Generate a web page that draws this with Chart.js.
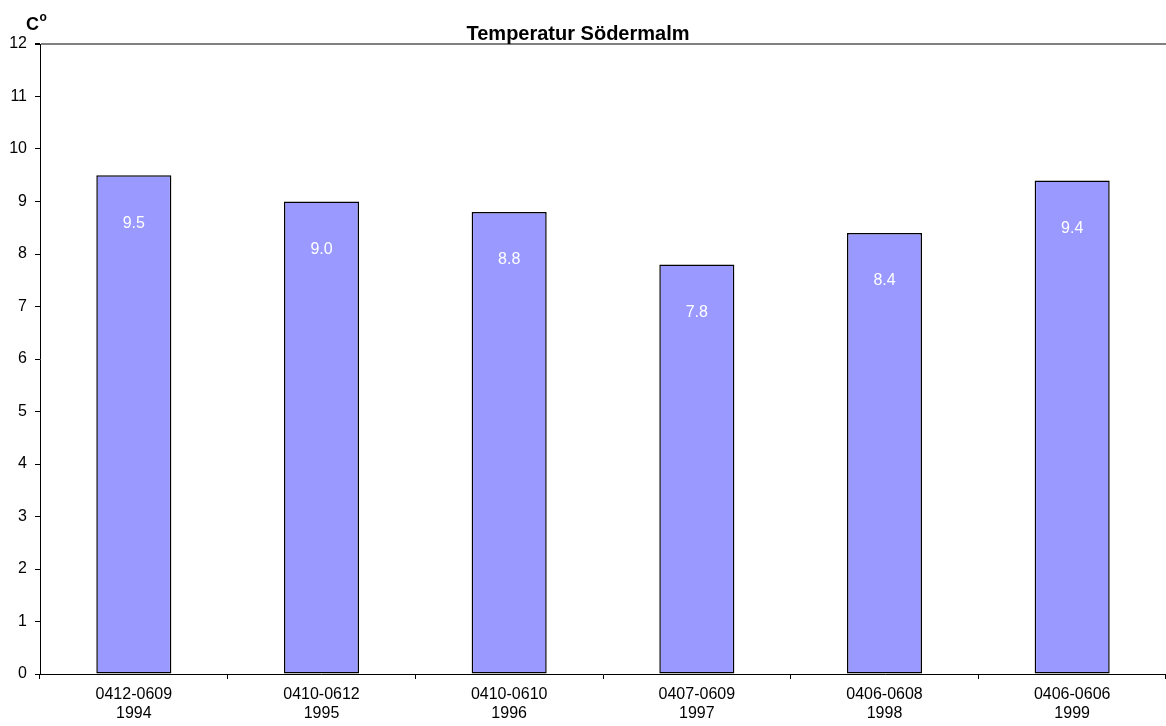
<!DOCTYPE html>
<html>
<head>
<meta charset="utf-8">
<script src="https://cdn.jsdelivr.net/npm/chart.js@4/dist/chart.umd.min.js"></script>
<style>
  html, body { margin: 0; padding: 0; background: #fff; }
  #wrap { width: 1166px; height: 726px; }
</style>
</head>
<body>
<div id="wrap"><canvas id="c" width="1166" height="726"></canvas></div>
<script>
// Measurement periods (date span on first line, year on second)
const periods = ['0412-0609', '0410-0612', '0410-0610', '0407-0609', '0406-0608', '0406-0606'];
const years = ['1994', '1995', '1996', '1997', '1998', '1999'];
// Mean temperature, °C
const temperatures = [9.5, 9.0, 8.8, 7.8, 8.4, 9.4];
const yTicks = [0, 1, 2, 3, 4, 5, 6, 7, 8, 9, 10, 11, 12];

const chartTitle = 'Temperatur Södermalm';
const FONT = '"Liberation Sans", Arial, sans-serif';

const labels = periods.map((p, i) => [p, years[i]]);

// Title, unit caption, and value labels inside the bars
const annotate = {
  id: 'annotate',
  afterDatasetsDraw(chart) {
    const { ctx } = chart;
    ctx.save();
    ctx.fillStyle = '#000';
    ctx.textAlign = 'center';
    ctx.textBaseline = 'alphabetic';
    ctx.font = 'bold 20px ' + FONT;
    ctx.fillText(chartTitle, chart.width / 2 - 5, 40);

    ctx.textAlign = 'left';
    ctx.font = 'bold 18px ' + FONT;
    ctx.fillText('C', 26, 30);
    const cw = ctx.measureText('C').width;
    ctx.font = 'bold 12px ' + FONT;
    ctx.fillText('o', 26 + cw + 0.5, 21);

    const meta = chart.getDatasetMeta(0);
    ctx.fillStyle = '#fff';
    ctx.textAlign = 'center';
    ctx.textBaseline = 'middle';
    ctx.font = '16px ' + FONT;
    meta.data.forEach((bar, i) => {
      ctx.fillText(temperatures[i].toFixed(1), bar.x, bar.y + 48);
    });
    ctx.restore();
  }
};

new Chart(document.getElementById('c'), {
  type: 'bar',
  data: {
    labels: labels,
    datasets: [{
      data: temperatures,
      backgroundColor: '#9999FF',
      borderColor: '#000',
      borderWidth: 1.5,
      borderSkipped: false,
      barPercentage: 0.4,
      categoryPercentage: 1.0
    }]
  },
  options: {
    responsive: false,
    animation: false,
    devicePixelRatio: 1,
    layout: { padding: { top: 44, right: 0, bottom: 0, left: 0 } },
    plugins: {
      legend: { display: false },
      title: { display: false },
      tooltip: { enabled: false }
    },
    scales: {
      x: {
        offset: true,
        grid: {
          offset: true,
          drawOnChartArea: false,
          drawTicks: true,
          tickLength: 5,
          tickColor: '#000',
          color: '#000'
        },
        border: { display: true, color: '#000', width: 1 },
        ticks: {
          color: '#000',
          padding: 6,
          maxRotation: 0,
          autoSkip: false,
          font: { family: FONT, size: 16, lineHeight: 1.2 }
        },
        afterFit(scale) { scale.height = 52; }
      },
      y: {
        min: 0,
        max: 12,
        afterBuildTicks(scale) { scale.ticks = yTicks.map(v => ({ value: v })); },
        grid: {
          drawTicks: true,
          tickLength: 5,
          tickColor: '#000',
          color: ctx => (ctx.tick && ctx.tick.value === 12) ? '#808080' : 'rgba(0,0,0,0)',
          lineWidth: ctx => (ctx.tick && ctx.tick.value === 12) ? 2 : 1
        },
        border: { display: true, color: '#000', width: 1 },
        ticks: {
          color: '#000',
          padding: 8,
          font: { family: FONT, size: 16 }
        },
        afterFit(scale) { scale.width = 40; }
      }
    }
  },
  plugins: [annotate]
});
</script>
</body>
</html>
